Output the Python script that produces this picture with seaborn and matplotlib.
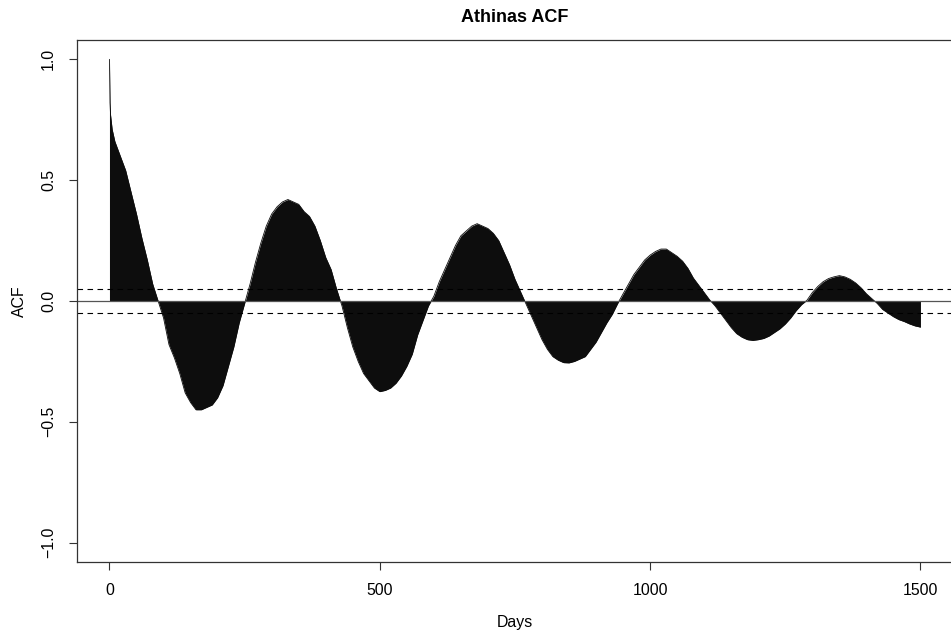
import numpy as np
import pandas as pd
import seaborn as sns
import matplotlib.pyplot as plt

# ---------------------------------------------------------
# DADES (llegides del gràfic)
# ---------------------------------------------------------
LAGS = [0, 1, 2, 5] + list(range(10, 1501, 10))

ACF = [
    1.0, 0.82, 0.77, 0.71,
    # 10..90
    0.66, 0.60, 0.54, 0.45, 0.36, 0.26, 0.17, 0.07, 0.00,
    # 100..250
    -0.07, -0.18, -0.235, -0.30, -0.38, -0.42, -0.45, -0.45, -0.44, -0.43,
    -0.40, -0.35, -0.27, -0.19, -0.09, -0.01,
    # 260..430
    0.07, 0.16, 0.24, 0.31, 0.36, 0.39, 0.41, 0.42, 0.41, 0.40,
    0.37, 0.35, 0.31, 0.25, 0.18, 0.13, 0.05, -0.02,
    # 440..590
    -0.11, -0.19, -0.25, -0.30, -0.33, -0.36, -0.375, -0.37, -0.36, -0.34,
    -0.31, -0.27, -0.22, -0.14, -0.08, -0.02,
    # 600..770
    0.02, 0.08, 0.13, 0.18, 0.23, 0.27, 0.29, 0.31, 0.32, 0.31,
    0.30, 0.28, 0.25, 0.20, 0.15, 0.09, 0.04, -0.01,
    # 780..940
    -0.06, -0.11, -0.16, -0.20, -0.23, -0.245, -0.255, -0.256, -0.25, -0.24,
    -0.23, -0.20, -0.17, -0.13, -0.09, -0.055, -0.01,
    # 950..1110
    0.03, 0.07, 0.11, 0.14, 0.17, 0.19, 0.205, 0.215, 0.215, 0.20,
    0.185, 0.165, 0.135, 0.095, 0.065, 0.035, 0.005,
    # 1120..1280
    -0.02, -0.05, -0.08, -0.11, -0.135, -0.15, -0.16, -0.163, -0.16, -0.155,
    -0.145, -0.13, -0.115, -0.095, -0.07, -0.04, -0.015,
    # 1290..1410
    0.003, 0.035, 0.06, 0.08, 0.093, 0.10, 0.105, 0.10, 0.09, 0.075,
    0.055, 0.03, 0.01,
    # 1420..1500
    -0.01, -0.035, -0.05, -0.065, -0.077, -0.085, -0.095, -0.103, -0.108,
]

CONF = 0.0506  # límit 1.96/sqrt(n)
X_TICKS = [0, 500, 1000, 1500]
Y_TICKS = [-1.0, -0.5, 0.0, 0.5, 1.0]

df = pd.DataFrame({'lag': LAGS, 'acf': ACF})

# ---------------------------------------------------------
# ESTIL
# ---------------------------------------------------------
sns.set_style("white")
plt.rcParams['font.family'] = ['Liberation Sans', 'DejaVu Sans']
plt.rcParams['text.color'] = 'black'
plt.rcParams['axes.labelcolor'] = 'black'
plt.rcParams['xtick.color'] = 'black'
plt.rcParams['ytick.color'] = 'black'

fig = plt.figure(figsize=(9.51, 6.37), dpi=100)
ax = fig.add_axes([0.081, 0.1177, 0.921, 0.8195])

# barres ACF (tan denses que formen una àrea)
ax.fill_between(df['lag'], 0, df['acf'], color='#0d0d0d', linewidth=0)
sns.lineplot(data=df, x='lag', y='acf', ax=ax, color='#0d0d0d', linewidth=0.6)

# línia zero i bandes de confiança
ax.axhline(0, color='#555555', linewidth=0.9)
for c in (CONF, -CONF):
    ax.axhline(c, color='black', linewidth=0.8, linestyle=(0, (5, 4)))

ax.set_xlim(-60, 1560)
ax.set_ylim(-1.08, 1.08)
ax.set_xticks(X_TICKS)
ax.set_yticks(Y_TICKS)

for side in ['top', 'bottom', 'left', 'right']:
    ax.spines[side].set_color('#333333')
    ax.spines[side].set_linewidth(0.9)

ax.tick_params(axis='both', direction='out', length=6, width=0.8,
               color='#333333', labelcolor='black', labelsize=11.4, pad=9,
               left=True, bottom=True)
ax.tick_params(axis='y', labelrotation=90)
for lab in ax.get_yticklabels():
    lab.set_va('center')

ax.set_title("Athinas ACF", fontsize=13, fontweight='bold', pad=13, color='black')
ax.set_xlabel("Days", fontsize=11.4)
ax.set_ylabel("ACF", fontsize=11.4)
ax.xaxis.set_label_coords(0.5, -0.115)
ax.xaxis.label.set_va('center')
ax.yaxis.set_label_coords(-0.066, 0.5)
ax.yaxis.label.set_va('center')

plt.savefig('out.png', dpi=100)
plt.close()
